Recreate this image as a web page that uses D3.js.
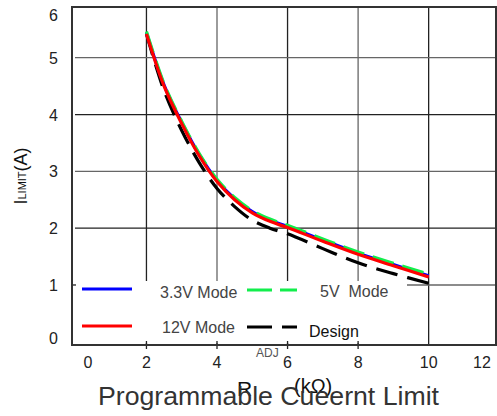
<!DOCTYPE html>
<html>
<head>
  <meta charset="utf-8">
  <title>Programmable Current Limit</title>
  <script src="https://d3js.org/d3.v7.min.js"></script>
  <style>
    body { margin: 0; background: #fff; }
    text { font-family: "Liberation Sans", Arial, sans-serif; }
  </style>
</head>
<body>
<script>
// chart values
var rAdj = [2, 2.5, 3, 3.5, 4, 4.5, 5, 5.5, 6, 7, 8, 9, 10];
var mode33 = [5.44, 4.52, 3.86, 3.29, 2.84, 2.52, 2.29, 2.14, 2.03, 1.79, 1.56, 1.36, 1.16];
var mode5 = [5.46, 4.54, 3.88, 3.31, 2.86, 2.54, 2.31, 2.16, 2.05, 1.81, 1.58, 1.38, 1.19];
var mode12 = [5.42, 4.50, 3.84, 3.27, 2.82, 2.50, 2.27, 2.12, 2.01, 1.77, 1.54, 1.34, 1.14];
var design = [5.42, 4.42, 3.72, 3.15, 2.70, 2.38, 2.14, 2.0, 1.90, 1.64, 1.39, 1.20, 1.03];
var xTicks = [0, 2, 4, 6, 8, 10, 12];
var yTicks = [0, 1, 2, 3, 4, 5, 6];

var width = 497, height = 416;
var frame = {left: 72, top: 7, right: 496, bottom: 345};

var svg = d3.select('body').append('svg')
  .attr('width', width).attr('height', height);

var x = d3.scaleLinear().domain([0, 12]).range([75.9, 499.2]);
var y = d3.scaleLinear().domain([0, 6]).range([341.8, 0.9]);

// grid
var grid = svg.append('g');
grid.selectAll('.vgrid')
  .data([2, 4, 6, 8, 10])
  .enter().append('line')
  .attr('x1', function (d) { return x(d); })
  .attr('x2', function (d) { return x(d); })
  .attr('y1', frame.top)
  .attr('y2', frame.bottom)
  .attr('stroke', function (d, i) { return i % 2 ? '#666' : '#222'; })
  .attr('stroke-width', 1.3);
grid.selectAll('.hgrid')
  .data([1, 2, 3, 4, 5])
  .enter().append('line')
  .attr('x1', frame.left + 3)
  .attr('x2', frame.right)
  .attr('y1', function (d) { return y(d); })
  .attr('y2', function (d) { return y(d); })
  .attr('stroke', function (d, i) { return i % 2 ? '#222' : '#666'; })
  .attr('stroke-width', 1.3);

// curves
var line = d3.line()
  .x(function (d) { return x(d[0]); })
  .y(function (d) { return y(d[1]); })
  .curve(d3.curveCatmullRom.alpha(0.5));

var series = [
  {name: 'Design', values: design, color: '#000', dash: '22,10'},
  {name: '3.3V Mode', values: mode33, color: '#0000ff', dash: null},
  {name: '5V  Mode', values: mode5, color: '#12ee4c', dash: '22,9'},
  {name: '12V Mode', values: mode12, color: '#ff0000', dash: null}
];

svg.selectAll('.curve')
  .data(series)
  .enter().append('path')
  .attr('d', function (s) { return line(rAdj.map(function (r, i) { return [r, s.values[i]]; })); })
  .attr('fill', 'none')
  .attr('stroke', function (s) { return s.color; })
  .attr('stroke-width', 3.2)
  .attr('stroke-dasharray', function (s) { return s.dash; });

// legend box covers lower grid
svg.append('rect')
  .attr('x', frame.left + 2).attr('y', 281)
  .attr('width', 333).attr('height', frame.bottom - 283)
  .attr('fill', '#fff');

// small ticks
svg.selectAll('.xt')
  .data([2, 4, 6, 8])
  .enter().append('line')
  .attr('x1', function (d) { return x(d); })
  .attr('x2', function (d) { return x(d); })
  .attr('y1', frame.bottom - 4).attr('y2', frame.bottom + 4)
  .attr('stroke', '#222').attr('stroke-width', 1.3);
svg.append('line')
  .attr('x1', frame.left).attr('x2', frame.left + 4)
  .attr('y1', y(1)).attr('y2', y(1))
  .attr('stroke', '#222').attr('stroke-width', 1.3);

var legend = [
  {label: '3.3V Mode', color: '#0000ff', dash: null, lx: 82, ly: 289, tx: 160, ty: 298},
  {label: '5V  Mode', color: '#12ee4c', dash: '25,8', lx: 247, ly: 290, tx: 320, ty: 297},
  {label: '12V Mode', color: '#ff0000', dash: null, lx: 82, ly: 326, tx: 162, ty: 333},
  {label: 'Design', color: '#000', dash: '25,10', lx: 247, ly: 327, tx: 309, ty: 337}
];
var lg = svg.selectAll('.lg').data(legend).enter().append('g');
lg.append('line')
  .attr('x1', function (d) { return d.lx; })
  .attr('x2', function (d) { return d.lx + 50; })
  .attr('y1', function (d) { return d.ly; })
  .attr('y2', function (d) { return d.ly; })
  .attr('stroke', function (d) { return d.color; })
  .attr('stroke-width', 3.2)
  .attr('stroke-dasharray', function (d) { return d.dash; });
lg.append('text')
  .attr('x', function (d) { return d.tx; })
  .attr('y', function (d) { return d.ty; })
  .attr('font-size', 16)
  .attr('fill', function (d) { return d.label === 'Design' ? '#111' : '#444'; })
  .style('white-space', 'pre')
  .text(function (d) { return d.label; });

// frame
svg.append('rect')
  .attr('x', frame.left).attr('y', frame.top)
  .attr('width', frame.right - frame.left)
  .attr('height', frame.bottom - frame.top)
  .attr('fill', 'none')
  .attr('stroke', '#333')
  .attr('stroke-width', 2);

// tick labels
svg.selectAll('.xl')
  .data(xTicks)
  .enter().append('text')
  .attr('x', function (d) { return Math.min(Math.max(x(d), frame.left + 16), frame.right - 14); })
  .attr('y', 368)
  .attr('text-anchor', 'middle')
  .attr('font-size', 16)
  .attr('fill', '#222')
  .text(function (d) { return d; });

svg.selectAll('.yl')
  .data(yTicks)
  .enter().append('text')
  .attr('x', 58)
  .attr('y', function (d) { return Math.min(Math.max(y(d), frame.top + 8), frame.bottom - 7) + 6; })
  .attr('text-anchor', 'end')
  .attr('font-size', 16)
  .attr('fill', '#222')
  .text(function (d) { return d; });

// y title
var yt = svg.append('text')
  .attr('transform', 'translate(27,176) rotate(-90)')
  .attr('text-anchor', 'middle')
  .attr('font-size', 18)
  .attr('fill', '#111');
yt.append('tspan').text('I');
yt.append('tspan').attr('font-size', 11).attr('dy', -1).text('LIMIT');
yt.append('tspan').attr('dy', 1).text('(A)');

// x title pieces
svg.append('text')
  .attr('x', 256).attr('y', 357)
  .attr('font-size', 12).attr('fill', '#555')
  .text('ADJ');
svg.append('text')
  .attr('x', 237).attr('y', 396)
  .attr('font-size', 21).attr('fill', '#111')
  .text('R');
svg.append('text')
  .attr('x', 294).attr('y', 393)
  .attr('font-size', 20).attr('fill', '#111')
  .text('(kΩ)');

svg.append('text')
  .attr('x', 98).attr('y', 405)
  .attr('font-family', '"Noto Sans", "Open Sans", sans-serif')
  .attr('font-size', 26)
  .attr('fill', '#333')
  .attr('textLength', 341)
  .attr('lengthAdjust', 'spacingAndGlyphs')
  .text('Programmable Cueernt Limit');
</script>
</body>
</html>
